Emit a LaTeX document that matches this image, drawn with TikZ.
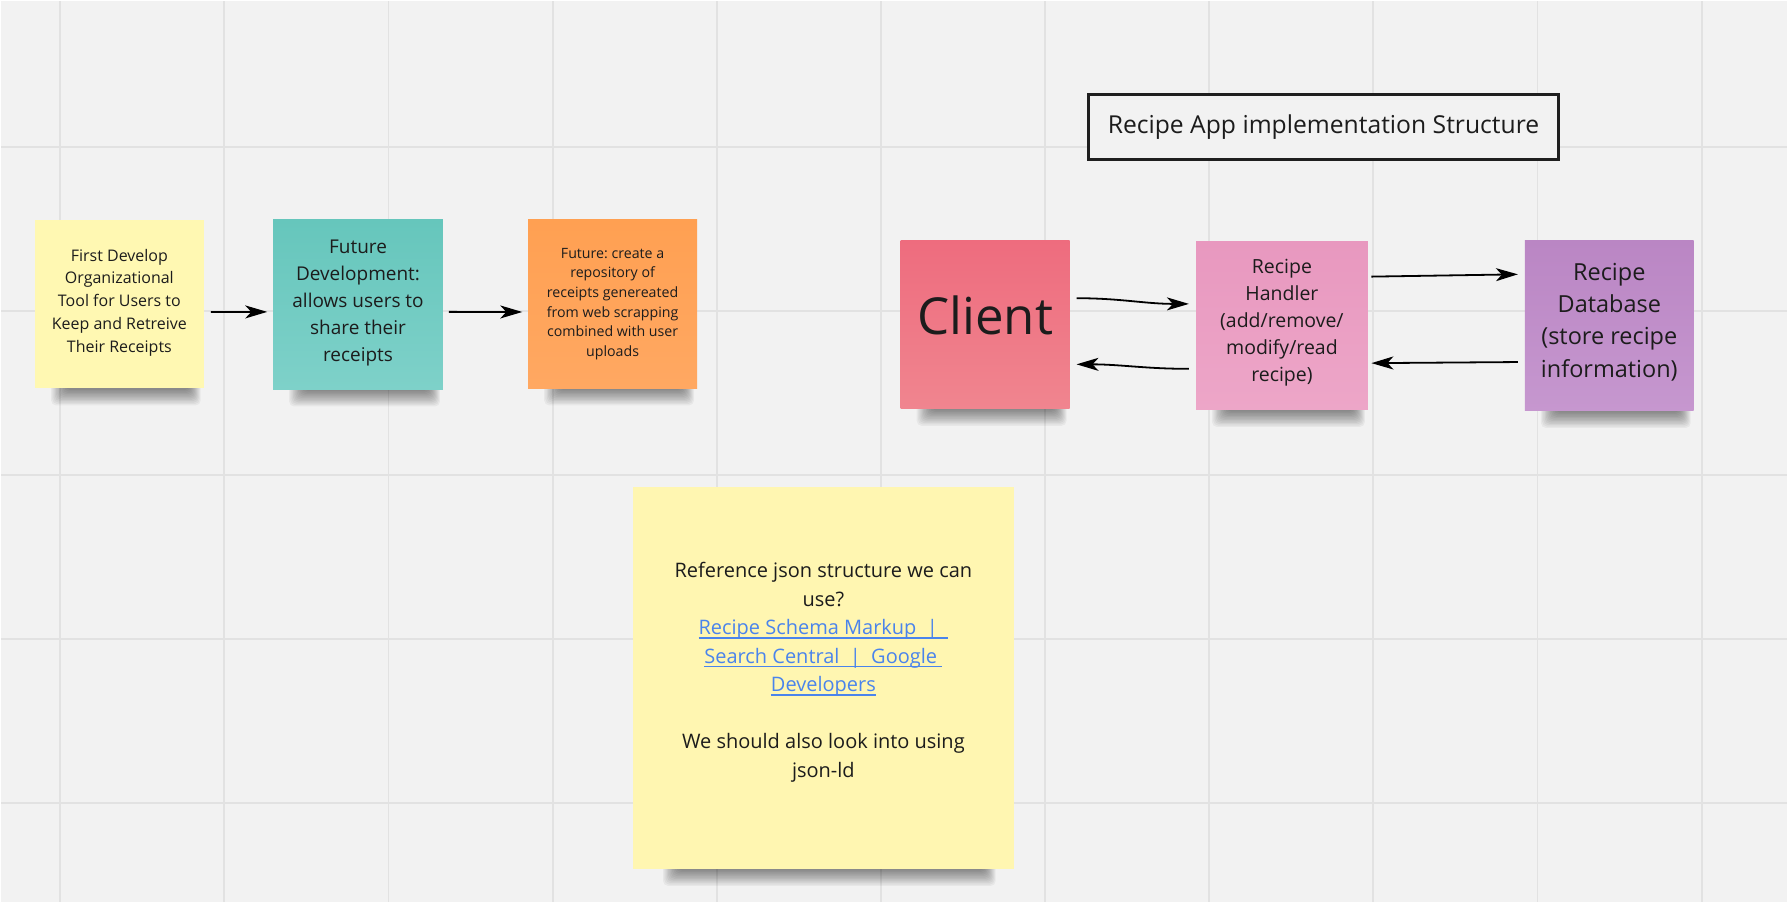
\documentclass[tikz,border=0pt]{standalone}
\usepackage{fontspec}
\setmainfont{Open Sans}
\usetikzlibrary{arrows.meta,calc}
\definecolor{bg}{HTML}{F2F2F2}
\definecolor{gridc}{HTML}{E2E2E2}
\definecolor{txt}{HTML}{1C1C1C}
\definecolor{ylw}{HTML}{FFF8B2}
\definecolor{tealtop}{HTML}{66C6BC}
\definecolor{tealbot}{HTML}{7ED1C9}
\definecolor{orng}{HTML}{FFA052}
\definecolor{orngbot}{HTML}{FFA862}
\definecolor{clienttop}{HTML}{EE6C7E}
\definecolor{clientbot}{HTML}{F0858F}
\definecolor{handtop}{HTML}{E898BF}
\definecolor{handbot}{HTML}{EDA6C8}
\definecolor{dbtop}{HTML}{BA86C4}
\definecolor{dbbot}{HTML}{C697CF}
\definecolor{bigy}{HTML}{FFF6B1}
\definecolor{linkblue}{HTML}{4A84EC}
\newcommand\lnkul[1]{\leavevmode\setbox0=\hbox{#1}\rlap{\rule[-4pt]{\wd0}{1.6pt}}\box0}
% soft shadow band under a note: left x, right x, bottom y, left inset, right inset
\newcommand\shadowbelow[5]{%
  \foreach \k in {0,...,11}
    \fill[black, fill opacity=0.045, rounded corners=5pt]
      ({#1+#4+1.3*\k},{#3-8}) rectangle ({#2-#5-1.0*\k},{#3+17-1.4*\k});}
\tikzset{
  gridline/.style={draw=gridc, line width=1.8pt},
  note/.style={draw=none, inner sep=0pt},
  notetext/.style={inner sep=0pt, align=center, text=txt},
  arr/.style={draw=black, line width=1.8pt,
    -{Stealth[length=22pt, width=13pt, inset=6pt]}},
  titlebox/.style={draw=black!88, line width=2.8pt, fill=bg, text=txt, inner sep=0pt}
}
\begin{document}
\frenchspacing
\begin{tikzpicture}[x=1pt,y=-1pt]
\fill[bg] (0,0) rectangle (1788,902);
\foreach \i in {0,...,10} \draw[gridline] ({59.4+164.3*\i},0) -- ++(0,902);
\foreach \j in {0,...,4} \draw[gridline] (0,{146+164.2*\j}) -- ++(1788,0);
\useasboundingbox (0,0) rectangle (1788,902);

% shadows
\shadowbelow{34.2}{203}{387.9}{16}{3}
\shadowbelow{272.5}{442.5}{389}{16}{3}
\shadowbelow{527.8}{696.8}{387.9}{16}{3}
\shadowbelow{900.7}{1069.7}{408.4}{16}{3}
\shadowbelow{1196.3}{1368.3}{409.5}{16}{3}
\shadowbelow{1525.5}{1694.5}{410.5}{16}{3}
\shadowbelow{632.8}{1013.8}{868.9}{30}{18}

% notes
\node[note, fill=ylw, minimum width=169pt, minimum height=169pt] (n1) at (118.6,303.4) {};
\node[note, top color=tealtop, bottom color=tealbot, minimum width=170pt, minimum height=170pt] (n2) at (357.5,304) {};
\node[note, top color=orng, bottom color=orngbot, minimum width=169pt, minimum height=169pt] (n3) at (612.3,303.4) {};
\node[note, top color=clienttop, bottom color=clientbot, minimum width=169pt, minimum height=169pt] (client) at (985.2,323.9) {};
\node[note, top color=handtop, bottom color=handbot, minimum width=172pt, minimum height=169pt] (handler) at (1282.3,325) {};
\node[note, top color=dbtop, bottom color=dbbot, minimum width=169pt, minimum height=171pt] (db) at (1610,325) {};
\node[note, fill=bigy, minimum width=381pt, minimum height=382pt] (ref) at (823.3,677.9) {};

% texts
\node[notetext, font=\fontsize{16}{22.8}\selectfont] (n1t) at ([yshift=1.5pt]n1.center)
  {First Develop\\Organizational\\Tool for Users to\\Keep and Retreive\\Their Receipts};
\node[notetext, font=\fontsize{19}{27}\selectfont] (n2t) at ([yshift=1.5pt]n2.center)
  {Future\\Development:\\allows users to\\share their\\receipts};
\node[notetext, font=\fontsize{14.2}{19.6}\selectfont] (n3t) at (n3.center)
  {Future: create a\\repository of\\receipts genereated\\from web scrapping\\combined with user\\uploads};
\node[notetext, font=\fontsize{51}{60}\selectfont] (clientt) at ([yshift=9pt]client.center) {Client};
\node[notetext, font=\fontsize{19.5}{27}\selectfont] (handlert) at ([yshift=2.5pt]handler.center)
  {Recipe\\Handler\\(add/remove/\\modify/read\\recipe)};
\node[notetext, font=\fontsize{23.5}{32.3}\selectfont] (dbt) at ([yshift=3.5pt]db.center)
  {Recipe\\Database\\(store recipe\\information)};
\node[notetext, font=\fontsize{20}{28.5}\selectfont] (reft) at ([yshift=6pt]ref.center)
  {Reference json structure we can\\use?\\
   {\color{linkblue}\lnkul{Recipe Schema Markup~~|~~}}\\
   {\color{linkblue}\lnkul{Search Central~~|~~Google~}}\\
   {\color{linkblue}\lnkul{Developers}}\\[28.5pt]
   We should also look into using\\json-ld};

\node[titlebox, minimum width=470pt, minimum height=65pt,
  font=\fontsize{24.7}{28}\selectfont] (title) at (1323.9,126) {Recipe App implementation Structure};

\draw[arr] ([xshift=6.8pt,yshift=-8pt]n1.east) -- ([xshift=-5.7pt,yshift=-7.3pt]n2.west);
\draw[arr] ([xshift=5.7pt,yshift=-7.3pt]n2.east) -- ([xshift=-5.7pt,yshift=-8pt]n3.west);
\draw[arr] ([xshift=6.8pt,yshift=26.3pt]client.east) to[out=0,in=180] ([xshift=-6.9pt,yshift=21.7pt]handler.west);
\draw[arr] ([xshift=-6.9pt,yshift=-43.3pt]handler.west) to[out=180,in=0] ([xshift=6.8pt,yshift=-39.9pt]client.east);
\draw[arr] ([xshift=3.4pt,yshift=49pt]handler.east) -- ([xshift=-6.8pt,yshift=51.3pt]db.west);
\draw[arr] ([xshift=-6.8pt,yshift=-36.5pt]db.west) -- ([xshift=3.4pt,yshift=-37.6pt]handler.east);
\end{tikzpicture}
\end{document}
